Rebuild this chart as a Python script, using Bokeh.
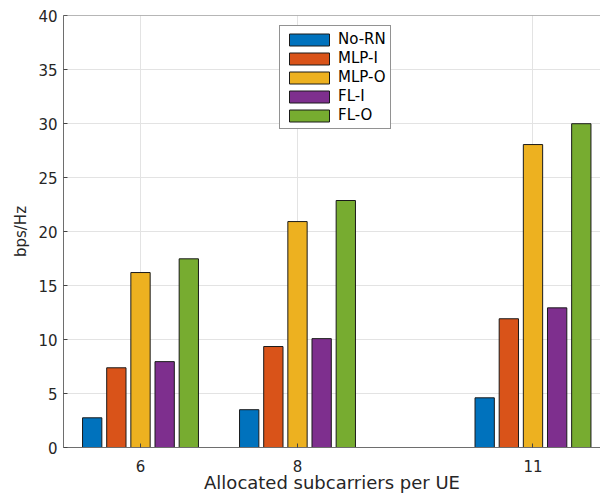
from bokeh.plotting import figure
from bokeh.models import ColumnDataSource, FixedTicker, Range1d, Legend, LegendItem, Span
from bokeh.transform import dodge
from bokeh.embed import file_html
from bokeh.resources import INLINE

# ---- data ----
subcarriers = [6, 8, 11]
series_names = ["No-RN", "MLP-I", "MLP-O", "FL-I", "FL-O"]
no_rn = [2.75, 3.5, 4.6]
mlp_i = [7.38, 9.35, 11.92]
mlp_o = [16.2, 20.92, 28.05]
fl_i = [7.95, 10.08, 12.93]
fl_o = [17.47, 22.87, 29.98]
x_ticks = [6, 8, 11]
y_ticks = [0, 5, 10, 15, 20, 25, 30, 35, 40]
y_max = 40

colors = ["#0072BD", "#D95319", "#EDB120", "#7E2F8E", "#77AC30"]

src = ColumnDataSource(dict(x=subcarriers, s0=no_rn, s1=mlp_i, s2=mlp_o, s3=fl_i, s4=fl_o))

p = figure(width=600, height=495, output_backend="svg", toolbar_location=None,
           title=None, x_range=Range1d(5.019, 11.86), y_range=Range1d(0, y_max),
           min_border_left=63, min_border_right=0, min_border_top=15, min_border_bottom=48)
p.outline_line_color = None
p.background_fill_color = "white"
p.border_fill_color = "white"

step = 0.3077
bw = 0.246
renderers = []
for i, col in enumerate(["s0", "s1", "s2", "s3", "s4"]):
    r = p.vbar(x=dodge("x", (i - 2) * step, range=p.x_range), top=col, bottom=0, width=bw,
               source=src, fill_color=colors[i], line_color="#1a1a1a", line_width=1)
    renderers.append(r)

tick_color = "#262626"
for ax in (p.xaxis[0], p.yaxis[0]):
    ax.axis_line_color = "#6e6e6e"
    ax.major_tick_line_color = "#444444"
    ax.major_tick_in = 4
    ax.major_tick_out = 0
    ax.minor_tick_line_color = None
    ax.major_label_text_color = tick_color
    ax.major_label_text_font = "DejaVu Sans"
    ax.major_label_text_font_size = "15px"
    ax.axis_label_text_font = "DejaVu Sans"
    ax.axis_label_text_font_style = "normal"
    ax.axis_label_text_color = tick_color

p.xaxis.ticker = FixedTicker(ticks=x_ticks)
p.yaxis.ticker = FixedTicker(ticks=y_ticks)
p.xaxis.axis_label = "Allocated subcarriers per UE"
p.yaxis.axis_label = "bps/Hz"
p.xaxis.axis_label_text_font_size = "18px"
p.yaxis.axis_label_text_font_size = "15px"
p.xaxis.major_label_standoff = 12
p.xaxis.axis_label_standoff = -3
p.yaxis.major_label_standoff = 6
p.yaxis.axis_label_standoff = 5

top_line = Span(location=y_max, dimension="width", line_color="#6e6e6e", line_width=1)
p.add_layout(top_line)

p.xgrid.ticker = FixedTicker(ticks=x_ticks)
p.ygrid.ticker = FixedTicker(ticks=y_ticks)
p.grid.grid_line_color = "#e3e3e3"
p.grid.grid_line_width = 1

legend = Legend(items=[LegendItem(label=n, renderers=[r]) for n, r in zip(series_names, renderers)])
legend.location = (216, 318)
legend.margin = 0
legend.padding = 4
legend.spacing = 1
legend.glyph_width = 50
legend.glyph_height = 15
legend.label_height = 15
legend.label_standoff = 4
legend.label_text_font = "DejaVu Sans"
legend.label_text_font_size = "15px"
legend.label_text_color = "#000000"
legend.border_line_color = "#262626"
legend.border_line_width = 1
legend.background_fill_color = "white"
legend.background_fill_alpha = 1
p.add_layout(legend, "center")

open("out.html", "w").write(file_html(p, INLINE))
